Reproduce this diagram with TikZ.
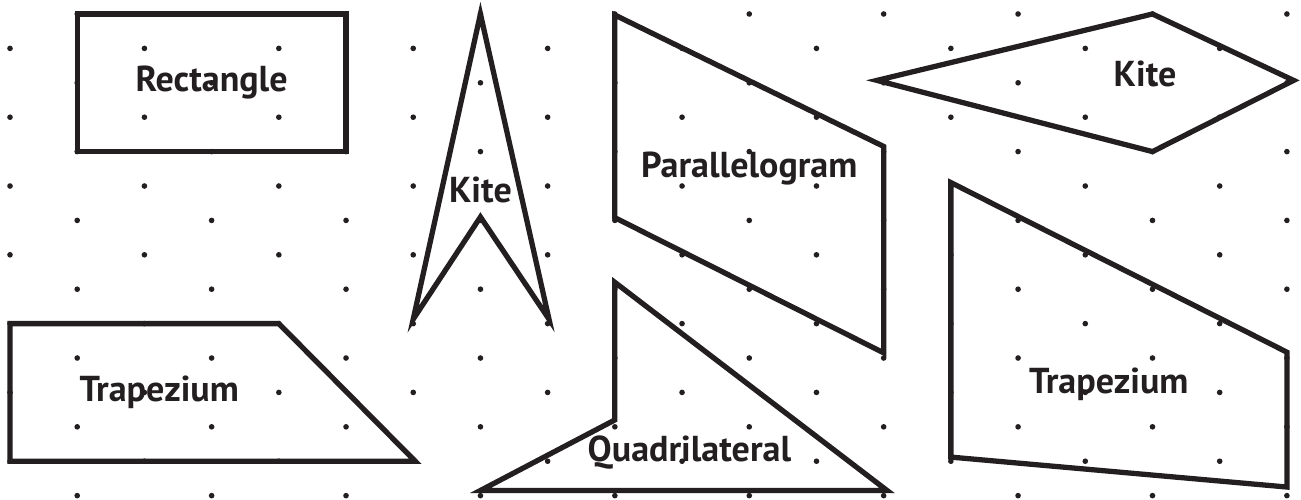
\documentclass[tikz,border=0pt]{standalone}
\usepackage{fontspec}
\setmainfont{PT Sans}
\definecolor{ink}{HTML}{231F20}

\begin{document}
\begin{tikzpicture}[
    x=1.344cm,
    y=-0.688cm,
    font=\fontsize{20.5}{24}\selectfont\bfseries,
    griddot/.style={
        fill=ink,
        draw=none
    },
    outline/.style={
        draw=ink,
        line width=3pt,
        line join=miter
    },
    tag/.style={
        text=ink,
        inner sep=0pt
    }
]
    \useasboundingbox (-0.149,-0.407) rectangle (19.21,14.10);

    % dot grid
    \foreach \k in {0,2,...,14}
        \foreach \i in {1,3,...,19}
            \fill[griddot] (\i,\k) circle (1.6pt);
    \foreach \k in {1,3,...,13}
        \foreach \i in {0,2,...,18}
            \fill[griddot] (\i,\k) circle (1.6pt);

    % shapes
    \draw[outline] (1,0) rectangle (5,4);
    \draw[outline] (7,0) -- (8.02,8.87) -- (7,5.9) -- (6,8.87) -- cycle;
    \draw[outline] (9,0.03) -- (13,3.85) -- (13,9.85) -- (9,5.92) -- cycle;
    \draw[outline] (12.9,1.93) -- (17,0) -- (19.1,1.93) -- (17,4) -- cycle;
    \draw[outline] (14,4.9) -- (19,9.83) -- (19,13.75) -- (14,12.88) -- cycle;
    \draw[outline] (0,9) -- (4,9) -- (6.03,13) -- (0,13) -- cycle;
    \draw[outline] (9,7.8) -- (13.05,13.85) -- (7,13.85) -- (9,11.8) -- cycle;

    % labels
    \node[tag] (rectname) at (3,2) {Rectangle};
    \node[tag] (kitetall) at (7,5.12) {Kite};
    \node[tag] (paraname) at (11,4.48) {Parallelogram};
    \node[tag] (kitewide) at (16.89,1.74) {Kite};
    \node[tag] (trapleft) at (2.22,11) {Trapezium};
    \node[tag] (trapright) at (16.35,10.76) {Trapezium};
    \node[tag] (quadname) at (10.11,12.75) {Quadrilateral};
\end{tikzpicture}
\end{document}
